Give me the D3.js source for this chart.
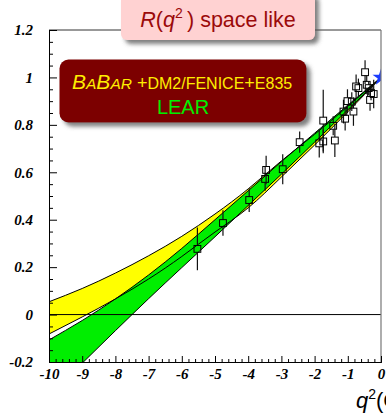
<!DOCTYPE html>
<html>
<head>
<meta charset="utf-8">
<script src="https://cdn.jsdelivr.net/npm/d3@7"></script>
<style>
  html, body { margin: 0; padding: 0; background: #fff; overflow: hidden; }
  svg { display: block; }
</style>
</head>
<body>
<script>
// Band abscissae (q^2 in GeV^2) and the edges of the two fit bands
const bandQ       = [-10,    -9,     -8,     -7,    -6,    -5,    -4,    -3,    -2,    -1,    0];
const yellowUpper = [0.054,  0.110,  0.175,  0.248, 0.330, 0.424, 0.530, 0.648, 0.760, 0.878, 1.0];
const yellowLower = [-0.082, -0.010, 0.066,  0.150, 0.245, 0.348, 0.450, 0.580, 0.715, 0.855, 1.0];
const greenUpper  = [-0.107, -0.025, 0.066,  0.167, 0.279, 0.400, 0.522, 0.645, 0.765, 0.883, 1.0];
const greenLower  = [-0.345, -0.205, -0.068, 0.067, 0.198, 0.328, 0.460, 0.592, 0.727, 0.863, 1.0];

// Measured points with their uncertainties
const dataQ   = [-5.53, -4.76, -3.97, -3.49, -3.46, -2.96, -2.45, -1.86, -1.74, -1.74, -1.44, -1.39, -1.13, -1.08, -1.01, -0.88, -0.83, -0.75, -0.68, -0.48, -0.43, -0.37, -0.33, -0.30, -0.22];
const dataR   = [0.277, 0.386, 0.483, 0.572, 0.610, 0.613, 0.727, 0.722, 0.818, 0.730, 0.796, 0.734, 0.856, 0.826, 0.900, 0.898, 0.856, 0.962, 0.955, 1.022, 0.969, 0.955, 0.905, 0.934, 0.930];
const dataErr = [0.090, 0.054, 0.050, 0.050, 0.060, 0.063, 0.045, 0.060, 0.130, 0.050, 0.040, 0.070, 0.050, 0.050, 0.050, 0.040, 0.060, 0.050, 0.040, 0.050, 0.040, 0.030, 0.045, 0.030, 0.060];

// Normalisation point R(0) = 1
const normQ = [0];
const normR = [1];

// Axis ticks
const xTicks = [-10, -9, -8, -7, -6, -5, -4, -3, -2, -1, 0];
const yTicks = [-0.2, 0, 0.2, 0.4, 0.6, 0.8, 1, 1.2];

const W = 386, H = 415;
const svg = d3.select("body").append("svg").attr("width", W).attr("height", H);

const x = d3.scaleLinear().domain([-10, 0]).range([49, 381]);
const y = d3.scaleLinear().domain([-0.2, 1.2]).range([362, 30]);

const defs = svg.append("defs");
defs.append("clipPath").attr("id", "plot-clip")
  .append("rect").attr("x", x(-10)).attr("y", y(1.2))
  .attr("width", x(0) - x(-10)).attr("height", y(-0.2) - y(1.2));

const shadow = defs.append("filter").attr("id", "shadow")
  .attr("x", "-10%").attr("y", "-20%").attr("width", "130%").attr("height", "160%");
shadow.append("feDropShadow").attr("dx", 4).attr("dy", 4).attr("stdDeviation", 2.2)
  .attr("flood-color", "#555").attr("flood-opacity", 0.75);

const plot = svg.append("g").attr("clip-path", "url(#plot-clip)");

const rows = bandQ.map((q, i) => ({ q, yu: yellowUpper[i], yl: yellowLower[i], gu: greenUpper[i], gl: greenLower[i] }));

const area = (lo, hi) => d3.area().x(d => x(d.q)).y0(d => y(d[lo])).y1(d => y(d[hi])).curve(d3.curveNatural);
const edge = key => d3.line().x(d => x(d.q)).y(d => y(d[key])).curve(d3.curveNatural);

plot.append("path").datum(rows).attr("d", area("yl", "yu")).attr("fill", "#ffff00");
plot.append("path").datum(rows).attr("d", area("gl", "gu")).attr("fill", "#00ee00");
["yu", "yl", "gu", "gl"].forEach(k => {
  plot.append("path").datum(rows).attr("d", edge(k))
    .attr("fill", "none").attr("stroke", "#000").attr("stroke-width", 1);
});

// zero line
plot.append("line").attr("x1", x(-10)).attr("x2", x(0)).attr("y1", y(0)).attr("y2", y(0))
  .attr("stroke", "#000").attr("stroke-width", 1);

// data points: hollow squares, error bars stop at the marker
const half = 3.4;
const pts = plot.append("g").selectAll("g").data(dataQ.map((q, i) => ({ q, r: dataR[i], e: dataErr[i] })))
  .join("g");
pts.append("line").attr("x1", d => x(d.q)).attr("x2", d => x(d.q))
  .attr("y1", d => y(d.r + d.e)).attr("y2", d => y(d.r) - half)
  .attr("stroke", "#111").attr("stroke-width", 1.2);
pts.append("line").attr("x1", d => x(d.q)).attr("x2", d => x(d.q))
  .attr("y1", d => y(d.r) + half).attr("y2", d => y(d.r - d.e))
  .attr("stroke", "#111").attr("stroke-width", 1.2);
pts.append("rect").attr("x", d => x(d.q) - half).attr("y", d => y(d.r) - half)
  .attr("width", 2 * half).attr("height", 2 * half)
  .attr("fill", "none").attr("stroke", "#000").attr("stroke-width", 1);

// normalisation star
const star = d3.symbol().type(d3.symbolStar).size(90);
plot.selectAll(".norm").data(normQ.map((q, i) => ({ q, r: normR[i] }))).join("path")
  .attr("class", "norm").attr("d", star)
  .attr("transform", d => `translate(${x(d.q)},${y(d.r)})`)
  .attr("fill", "#1a3cff");

// frame
svg.append("line").attr("x1", x(-10)).attr("x2", x(0)).attr("y1", y(1.2)).attr("y2", y(1.2))
  .attr("stroke", "#333").attr("stroke-width", 1);
svg.append("line").attr("x1", x(0)).attr("x2", x(0)).attr("y1", y(1.2)).attr("y2", y(-0.2))
  .attr("stroke", "#777").attr("stroke-width", 1.2);

const tickFont = g => g.selectAll("text")
  .attr("font-family", "'Liberation Serif', 'DejaVu Serif', serif")
  .attr("font-weight", "bold").attr("font-style", "italic").attr("font-size", 15).attr("fill", "#000");

// x axis (ticks pointing into the plot)
const xMinor = d3.range(-10, 0.001, 0.2).map(v => +v.toFixed(1)).filter(v => !xTicks.includes(v));
const gx = svg.append("g").attr("transform", `translate(0,${y(-0.2)})`);
gx.call(d3.axisBottom(x).tickValues(xTicks).tickFormat(d => String(d)).tickSize(-6).tickPadding(6));
gx.append("g").call(d3.axisBottom(x).tickValues(xMinor).tickFormat("").tickSize(-3));
gx.selectAll(".domain").attr("stroke", "#000");
gx.selectAll("line").attr("stroke", "#000");
tickFont(gx);

// y axis
const yMinor = d3.range(-0.2, 1.2001, 0.05).map(v => +v.toFixed(2)).filter(v => !yTicks.some(t => Math.abs(t - v) < 1e-6));
const gy = svg.append("g").attr("transform", `translate(${x(-10)},0)`);
gy.call(d3.axisLeft(y).tickValues(yTicks).tickFormat(d => String(+d.toFixed(1))).tickSize(-8).tickPadding(16));
gy.append("g").call(d3.axisLeft(y).tickValues(yMinor).tickFormat("").tickSize(-4));
gy.selectAll(".domain").attr("stroke", "#000");
gy.selectAll("line").attr("stroke", "#000");
tickFont(gy);

// x axis title
const xt = svg.append("text").attr("x", 356).attr("y", 408)
  .attr("font-family", "'Liberation Sans', Arial, sans-serif").attr("font-size", 22).attr("fill", "#000");
xt.append("tspan").attr("font-style", "italic").text("q");
xt.append("tspan").attr("font-size", 14).attr("dy", -9).text("2");
xt.append("tspan").attr("dy", 9).text("(GeV");
xt.append("tspan").attr("font-size", 14).attr("dy", -9).text("2");
xt.append("tspan").attr("dy", 9).text(")");

// title box
const tb = svg.append("g");
tb.append("rect").attr("x", 121).attr("y", -8).attr("width", 194).attr("height", 48).attr("rx", 6)
  .attr("fill", "#ffd2d2").attr("filter", "url(#shadow)");
const tt = tb.append("text").attr("x", 218).attr("y", 27).attr("text-anchor", "middle")
  .attr("font-family", "'Liberation Sans', Arial, sans-serif").attr("font-size", 21.5).attr("fill", "#9b0a0a");
tt.append("tspan").attr("font-style", "italic").text("R");
tt.append("tspan").text("(");
tt.append("tspan").attr("font-style", "italic").text("q");
tt.append("tspan").attr("font-size", 14).attr("dy", -9).text("2");
tt.append("tspan").attr("dy", 9).text("\u2009) space like");

// legend box
const lg = svg.append("g");
lg.append("rect").attr("x", 59.5).attr("y", 59.5).attr("width", 247).attr("height", 63).attr("rx", 9)
  .attr("fill", "#7c0000").attr("filter", "url(#shadow)");
const l1 = lg.append("text").attr("x", 72).attr("y", 88.5)
  .attr("font-family", "'Liberation Sans', Arial, sans-serif").attr("fill", "#ffee00");
l1.append("tspan").attr("font-style", "italic").attr("font-size", 21).text("B");
l1.append("tspan").attr("font-style", "italic").attr("font-size", 15.5).text("A");
l1.append("tspan").attr("font-style", "italic").attr("font-size", 21).text("B");
l1.append("tspan").attr("font-style", "italic").attr("font-size", 15.5).text("AR");
l1.append("tspan").attr("font-size", 18).text(" +");
l1.append("tspan").attr("font-size", 16).text("DM2/FENICE");
l1.append("tspan").attr("font-size", 18).text("+");
l1.append("tspan").attr("font-size", 16).text("E835");
lg.append("text").attr("x", 183).attr("y", 114).attr("text-anchor", "middle")
  .attr("font-family", "'Liberation Sans', Arial, sans-serif").attr("font-size", 20)
  .attr("fill", "#00ee00").text("LEAR");
</script>
</body>
</html>
